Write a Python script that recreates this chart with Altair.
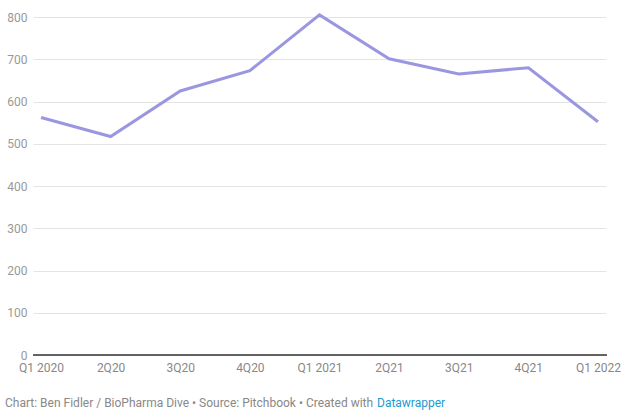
import altair as alt
import pandas as pd

quarters = ["Q1 2020", "2Q20", "3Q20", "4Q20", "Q1 2021", "2Q21", "3Q21", "4Q21", "Q1 2022"]
values = [562, 517, 625, 673, 805, 701, 665, 680, 552]
y_ticks = [0, 100, 200, 300, 400, 500, 600, 700, 800]

df = pd.DataFrame({"quarter": quarters, "value": values})

FONT = "Roboto"
W, H = 573, 338

x_enc = alt.X("quarter:O", sort=quarters,
              scale=alt.Scale(type="point", padding=0.115),
              axis=alt.Axis(title=None, domain=False, ticks=False, grid=False, labelAngle=0,
                            labelColor="#888888", labelFontSize=12, labelFont=FONT,
                            labelPadding=7))
y_scale = alt.Scale(domain=[0, 800], nice=False)

base = alt.Chart(df)

line = base.mark_line(color="#9a97e0", strokeWidth=3, clip=False, strokeJoin="miter").encode(
    x=x_enc,
    y=alt.Y("value:Q", scale=y_scale,
            axis=alt.Axis(title=None, values=y_ticks, domain=False, ticks=False,
                          grid=True, gridColor="#e3e3e3", gridWidth=1,
                          labelColor="#999999", labelFontSize=12, labelFont=FONT,
                          labelPadding=6)),
)

baseline = alt.Chart(pd.DataFrame({"v": [0]})).mark_rule(color="#333333", strokeWidth=1.5).encode(
    y=alt.Y("v:Q", scale=y_scale),
    x=alt.value(0), x2=alt.value(W + 1),
)

footer_gray = alt.Chart(pd.DataFrame({"t": ["Chart: Ben Fidler / BioPharma Dive • Source: Pitchbook • Created with"]})).mark_text(
    align="left", baseline="middle", font=FONT, fontSize=12, color="#888888"
).encode(text="t:N", x=alt.value(-28), y=alt.value(386))

footer_blue = alt.Chart(pd.DataFrame({"t": ["Datawrapper"]})).mark_text(
    align="left", baseline="middle", font=FONT, fontSize=12, color="#1d9bd1"
).encode(text="t:N", x=alt.value(344), y=alt.value(386))

chart = alt.layer(line, baseline, footer_gray, footer_blue).properties(
    width=W, height=H,
    autosize=alt.AutoSizeParams(type="none"),
    padding={"left": 33, "top": 17, "right": 20, "bottom": 60},
).configure(background="white").configure_view(stroke=None)

chart.save("out.html", embed_options={"renderer": "svg", "actions": False})
